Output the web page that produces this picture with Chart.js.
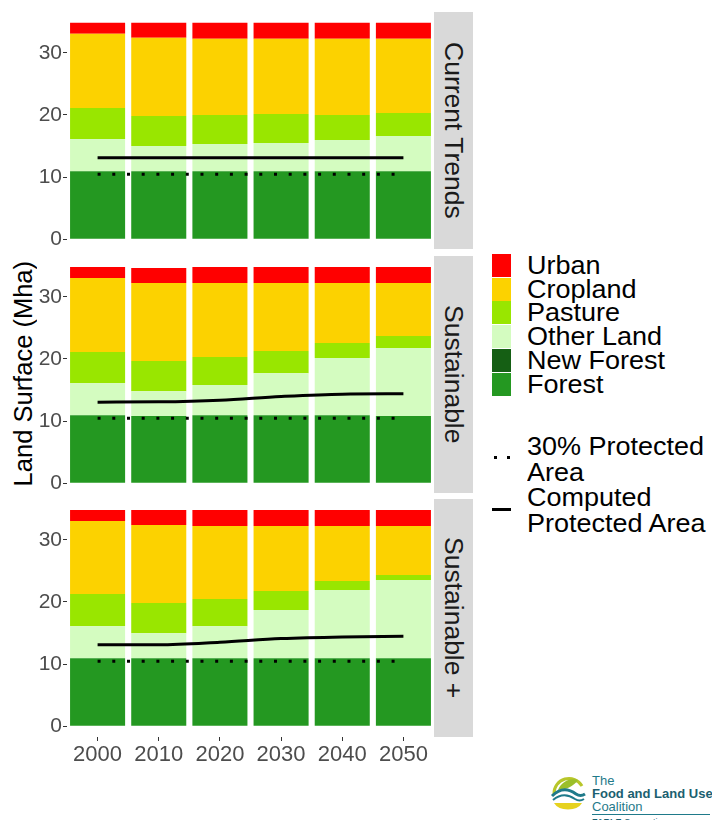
<!DOCTYPE html>
<html>
<head>
<meta charset="utf-8">
<script src="https://cdn.jsdelivr.net/npm/chart.js@4.4.1/dist/chart.umd.min.js"></script>
<style>
  body { margin: 0; background: #fff; font-family: "Liberation Sans", Arial, sans-serif; }
  #page { position: relative; width: 712px; height: 820px; overflow: hidden; }
  .panel { position: absolute; left: 30px; }
  .strip { position: absolute; left: 434px; width: 39px; background: #d9d9d9;
           display: flex; align-items: center; justify-content: center; }
  .strip span { writing-mode: vertical-rl; font-size: 26.5px; color: #1a1a1a; white-space: nowrap; }
  #ytitle { position: absolute; left: 8px; top: 263px; height: 222px; width: 30px;
            display: flex; align-items: center; justify-content: center; }
  #ytitle span { writing-mode: vertical-rl; transform: rotate(180deg); font-size: 25.5px; white-space: nowrap; color: #000; }
  .key { position: absolute; left: 492px; width: 19px; height: 23px; }
  .lab { position: absolute; left: 527px; font-size: 25px; line-height: 24px; color: #000; white-space: nowrap;
         transform: scaleX(1.08); transform-origin: left center; }
  #logo { position: absolute; left: 548px; top: 770px; width: 164px; height: 50px; }
  #logo .t { position: absolute; left: 44px; color: #1f7a8a; font-size: 13px; line-height: 13px; white-space: nowrap; }
</style>
</head>
<body>
<div id="page">
  <div id="ytitle"><span>Land Surface (Mha)</span></div>

  <div class="panel" style="top:12px"><canvas id="c0" width="404" height="238"></canvas></div>
  <div class="panel" style="top:256px"><canvas id="c1" width="404" height="238"></canvas></div>
  <div class="panel" style="top:499px"><canvas id="c2" width="404" height="278"></canvas></div>

  <div class="strip" style="top:12px;height:237px"><span>Current Trends</span></div>
  <div class="strip" style="top:256px;height:237px"><span>Sustainable</span></div>
  <div class="strip" style="top:499px;height:238px"><span>Sustainable +</span></div>

  <div id="legend"></div>

  <div id="logo">
    <svg width="40" height="42" viewBox="0 0 40 42" style="position:absolute;left:0;top:2px">
      <path d="M6 22 A15 15 0 0 1 34 14" fill="none" stroke="#b8c62a" stroke-width="3"/>
      <path d="M10 18 C14 8 24 6 30 8 C26 14 18 18 10 18 Z" fill="#9bbf2a"/>
      <path d="M4 24 C12 16 20 16 28 22 C31 24 34 24 37 22" fill="none" stroke="#1f7a8a" stroke-width="3"/>
      <path d="M5 28 C12 22 20 22 27 27 C30 29 33 29 36 27" fill="none" stroke="#1f7a8a" stroke-width="2"/>
      <path d="M6 31 L34 31 A15 10 0 0 1 6 31 Z" fill="#e6d21f"/>
    </svg>
    <div class="t" style="top:4px">The</div>
    <div class="t" style="top:17px;font-weight:bold;color:#1b5f70">Food and Land Use</div>
    <div class="t" style="top:30px">Coalition</div>
    <div style="position:absolute;left:44px;top:44px;width:118px;height:1px;background:#1f7a8a"></div>
    <div class="t" style="top:46px;font-size:9px;font-weight:bold;color:#1b5f70">FABLE <span style="font-weight:normal">Consortium</span></div>
  </div>
</div>

<script>
// categories and scenarios
const years = ["2000", "2010", "2020", "2030", "2040", "2050"];
const scenarios = ["Current Trends", "Sustainable", "Sustainable +"];
const landClasses = ["Forest", "New Forest", "Other Land", "Pasture", "Cropland", "Urban"];
const landColors = ["#249821", "#155f14", "#d4fcc0", "#99e600", "#fcd200", "#ff0000"];

// Mha per land class, one row per scenario (Current Trends, Sustainable, Sustainable +)
const forest = [
  [10.95, 10.95, 10.95, 10.95, 10.95, 10.95],
  [10.95, 10.80, 10.95, 10.95, 10.95, 10.80],
  [10.95, 10.95, 10.95, 10.95, 10.95, 10.95]
];
const newForest = [
  [0, 0, 0, 0, 0, 0],
  [0, 0, 0, 0, 0, 0],
  [0, 0, 0, 0, 0, 0]
];
const otherLand = [
  [5.18, 4.05, 4.37, 4.53, 5.02, 5.66],
  [5.16, 4.02, 4.84, 6.77, 9.19, 10.96],
  [5.16, 4.03, 5.16, 7.74, 10.97, 12.58]
];
const pasture = [
  [5.00, 4.84, 4.68, 4.68, 4.03, 3.71],
  [5.00, 4.84, 4.51, 3.55, 2.42, 1.93],
  [5.16, 4.84, 4.36, 3.07, 1.45, 0.81]
];
const cropland = [
  [11.93, 12.58, 12.26, 12.10, 12.26, 11.94],
  [11.94, 12.58, 11.94, 10.97, 9.68, 8.55],
  [11.78, 12.58, 11.77, 10.48, 8.87, 7.90]
];
const urban = [
  [1.78, 2.42, 2.58, 2.58, 2.58, 2.58],
  [1.77, 2.42, 2.58, 2.58, 2.58, 2.58],
  [1.77, 2.42, 2.58, 2.58, 2.58, 2.58]
];
const computedProtected = [
  [13.10, 13.10, 13.10, 13.10, 13.10, 13.10],
  [13.05, 13.10, 13.37, 13.96, 14.34, 14.39],
  [13.10, 13.10, 13.50, 14.10, 14.38, 14.48]
];
const target30 = [10.45, 10.45, 10.45, 10.45, 10.45, 10.45];
const yTicks = [0, 10, 20, 30];

const tickColor = "#4d4d4d";
const fontFamily = "'Liberation Sans', Arial, sans-serif";

function makePanel(idx, showX) {
  const series = [forest, newForest, otherLand, pasture, cropland, urban];
  const datasets = series.map((s, i) => ({
    type: "bar",
    label: landClasses[i],
    data: s[idx],
    backgroundColor: landColors[i],
    borderWidth: 0,
    stack: "land",
    order: 2
  }));
  datasets.push({
    type: "line",
    label: "30% Protected Area",
    data: target30,
    borderColor: "#000",
    borderWidth: 3,
    borderDash: [3, 11.7],
    borderCapStyle: "butt",
    pointRadius: 0,
    stack: "pa",
    order: 0
  });
  datasets.push({
    type: "line",
    label: "Computed Protected Area",
    data: computedProtected[idx],
    borderColor: "#000",
    borderWidth: 3,
    cubicInterpolationMode: "monotone",
    pointRadius: 0,
    stack: "pc",
    order: 1
  });

  new Chart(document.getElementById("c" + idx), {
    data: { labels: years, datasets },
    options: {
      responsive: false,
      animation: false,
      devicePixelRatio: 1,
      layout: { padding: 0 },
      plugins: { legend: { display: false }, tooltip: { enabled: false } },
      datasets: { bar: { categoryPercentage: 1.0, barPercentage: 0.9 } },
      scales: {
        x: {
          stacked: true,
          display: showX,
          offset: true,
          border: { display: false },
          grid: { offset: false, drawOnChartArea: false, drawTicks: true, tickLength: 4, color: "#333" },
          ticks: { color: tickColor, padding: 1, maxRotation: 0, font: { family: fontFamily, size: 22 } },
          afterFit: (s) => {
            if (!showX) return;
            s.height = 40; s.paddingLeft = 0; s.paddingRight = 0;
          }
        },
        y: {
          stacked: true,
          min: -1.74,
          max: 36.58,
          border: { display: false },
          grid: { drawOnChartArea: false, drawTicks: true, tickLength: 4, color: "#333" },
          ticks: { color: tickColor, padding: 1, font: { family: fontFamily, size: 21 } },
          afterBuildTicks: (s) => { s.ticks = yTicks.map(v => ({ value: v })); },
          afterFit: (s) => { s.width = 37; s.paddingTop = 0; s.paddingBottom = 0; }
        }
      }
    }
  });
}

scenarios.forEach((name, i) => makePanel(i, i === scenarios.length - 1));

// legend, same order as the original (top of stack first)
const legend = document.getElementById("legend");
const legendOrder = [5, 4, 3, 2, 1, 0];
legendOrder.forEach((ci, row) => {
  const top = 254 + row * 23.7;
  const key = document.createElement("div");
  key.className = "key";
  key.style.top = top + "px";
  key.style.background = landColors[ci];
  legend.appendChild(key);
  const lab = document.createElement("div");
  lab.className = "lab";
  lab.style.top = (top - 1) + "px";
  lab.textContent = landClasses[ci];
  legend.appendChild(lab);
});

legend.insertAdjacentHTML("beforeend",
  '<div style="position:absolute;left:494px;top:456px;width:3px;height:3px;background:#000"></div>' +
  '<div style="position:absolute;left:507px;top:456px;width:3px;height:3px;background:#000"></div>' +
  '<div class="lab" style="top:434px;line-height:25.5px">30% Protected<br>Area</div>' +
  '<div style="position:absolute;left:492px;top:508px;width:19px;height:3px;background:#000"></div>' +
  '<div class="lab" style="top:485px;line-height:25.5px">Computed<br>Protected Area</div>');
</script>
</body>
</html>
